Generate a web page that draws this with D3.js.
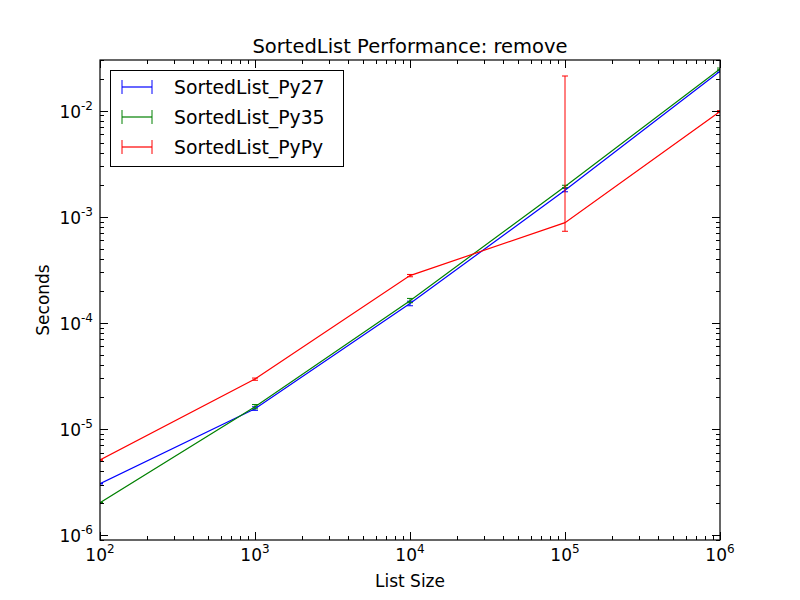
<!DOCTYPE html>
<html><head><meta charset="utf-8">
<script src="https://cdn.jsdelivr.net/npm/d3@7"></script>
<style>body{margin:0;background:#fff}svg{font-family:"DejaVu Sans",sans-serif}</style>
</head><body><svg id="c" width="800" height="600"></svg>
<script>
const sizes = [100, 1000, 10000, 100000, 1000000];
const py27 = [3.05e-6, 1.55e-5, 1.52e-4, 1.78e-3, 2.35e-2];
const py35 = [2.02e-6, 1.62e-5, 1.62e-4, 1.93e-3, 2.47e-2];
const pypy = [5.1e-6, 2.96e-5, 2.79e-4, 8.8e-4, 9.8e-3];
const py27Err = [[3.04e-6,3.06e-6],[1.50e-5,1.62e-5],[1.45e-4,1.60e-4],[1.72e-3,1.85e-3],[2.3e-2,2.4e-2]];
const py35Err = [[2.01e-6,2.03e-6],[1.55e-5,1.70e-5],[1.55e-4,1.70e-4],[1.88e-3,1.98e-3],[2.42e-2,2.52e-2]];
const pypyErr = [[5.08e-6,5.12e-6],[2.88e-5,3.02e-5],[2.72e-4,2.86e-4],[7.3e-4,2.12e-2],[9.6e-3,1.0e-2]];
const seriesNames = ["SortedList_Py27", "SortedList_Py35", "SortedList_PyPy"];
const colors = ["#0000ff", "#008000", "#ff0000"];
const xTicks = [1e2, 1e3, 1e4, 1e5, 1e6];
const yTicks = [1e-6, 1e-5, 1e-4, 1e-3, 1e-2];

const svg = d3.select("#c");
const L = 100, R = 720, T = 60, B = 540;
const x = d3.scaleLog().domain([1e2, 1e6]).range([L, R]);
const y = d3.scaleLog().domain([9e-7, 3e-2]).range([B, T]);

svg.append("defs").append("clipPath").attr("id","clip").append("rect").attr("x",L).attr("y",T).attr("width",R-L).attr("height",B-T);
const g = svg.append("g").attr("clip-path","url(#clip)");
const series = [
  {name: seriesNames[0], v: py27, e: py27Err, c: colors[0]},
  {name: seriesNames[1], v: py35, e: py35Err, c: colors[1]},
  {name: seriesNames[2], v: pypy, e: pypyErr, c: colors[2]}
];
const line = d3.line().x((d,i)=>x(sizes[i])).y(d=>y(d));
series.forEach(s => {
  g.append("path").attr("d", line(s.v)).attr("fill","none").attr("stroke", s.c).attr("stroke-width",1.2);
  s.e.forEach((e,i) => {
    const xx = x(sizes[i]);
    g.append("line").attr("x1",xx).attr("x2",xx).attr("y1",y(e[0])).attr("y2",y(e[1])).attr("stroke",s.c).attr("stroke-width",1);
    [e[0],e[1]].forEach(v => g.append("line").attr("x1",xx-3).attr("x2",xx+3).attr("y1",y(v)).attr("y2",y(v)).attr("stroke",s.c).attr("stroke-width",1));
  });
});

// ticks
const minorX = [], minorY = [];
for (let d = 2; d < 6; d++) for (let k = 2; k <= 9; k++) minorX.push(k*Math.pow(10,d));
for (let d = -7; d < -1; d++) for (let k = 2; k <= 9; k++) { const v = k*Math.pow(10,d); if (v >= 9e-7 && v <= 3e-2) minorY.push(v); }
const ax = svg.append("g").attr("stroke","#000").attr("stroke-width",1);
xTicks.forEach(v => { const p = Math.round(x(v))+0.5; ax.append("line").attr("x1",p).attr("x2",p).attr("y1",B).attr("y2",B-8); ax.append("line").attr("x1",p).attr("x2",p).attr("y1",T).attr("y2",T+8); });
minorX.forEach(v => { const p = Math.round(x(v))+0.5; ax.append("line").attr("x1",p).attr("x2",p).attr("y1",B).attr("y2",B-4); ax.append("line").attr("x1",p).attr("x2",p).attr("y1",T).attr("y2",T+4); });
yTicks.forEach(v => { const p = Math.round(y(v))+0.5; ax.append("line").attr("x1",L).attr("x2",L+8).attr("y1",p).attr("y2",p); ax.append("line").attr("x1",R).attr("x2",R-8).attr("y1",p).attr("y2",p); });
minorY.forEach(v => { const p = Math.round(y(v))+0.5; ax.append("line").attr("x1",L).attr("x2",L+4).attr("y1",p).attr("y2",p); ax.append("line").attr("x1",R).attr("x2",R-4).attr("y1",p).attr("y2",p); });
svg.append("rect").attr("x",L).attr("y",T).attr("width",R-L).attr("height",B-T).attr("fill","none").attr("stroke","#000").attr("stroke-width",1.2);

// tick labels
xTicks.forEach(v => {
  const t = svg.append("text").attr("x", x(v)).attr("y", 561).attr("text-anchor","middle").attr("font-size",17);
  t.append("tspan").text("10");
  t.append("tspan").attr("dy",-8).attr("font-size",12).text(Math.round(Math.log10(v)));
});
yTicks.forEach(v => {
  const t = svg.append("text").attr("x", 93).attr("y", y(v)+7).attr("text-anchor","end").attr("font-size",17);
  t.append("tspan").text("10");
  t.append("tspan").attr("dy",-8).attr("font-size",12).text("-" + Math.abs(Math.round(Math.log10(v))));
});

svg.append("text").attr("x",410).attr("y",53).attr("text-anchor","middle").attr("font-size",19.5).text("SortedList Performance: remove");
svg.append("text").attr("x",410).attr("y",587).attr("text-anchor","middle").attr("font-size",17).text("List Size");
svg.append("text").attr("transform","translate(49,300) rotate(-90)").attr("text-anchor","middle").attr("font-size",17).text("Seconds");

// legend
const lg = svg.append("g");
lg.append("rect").attr("x",110.5).attr("y",70.5).attr("width",233).attr("height",96).attr("fill","#fff").attr("stroke","#000").attr("stroke-width",1);
series.forEach((s,i) => {
  const yy = 87 + i*30;
  lg.append("line").attr("x1",122).attr("x2",152).attr("y1",yy).attr("y2",yy).attr("stroke",s.c).attr("stroke-width",1.2);
  [122,152].forEach(xx => lg.append("line").attr("x1",xx).attr("x2",xx).attr("y1",yy-7).attr("y2",yy+7).attr("stroke",s.c).attr("stroke-width",1));
  lg.append("text").attr("x",174).attr("y",yy+7).attr("font-size",18.8).text(s.name);
});
</script></body></html>
